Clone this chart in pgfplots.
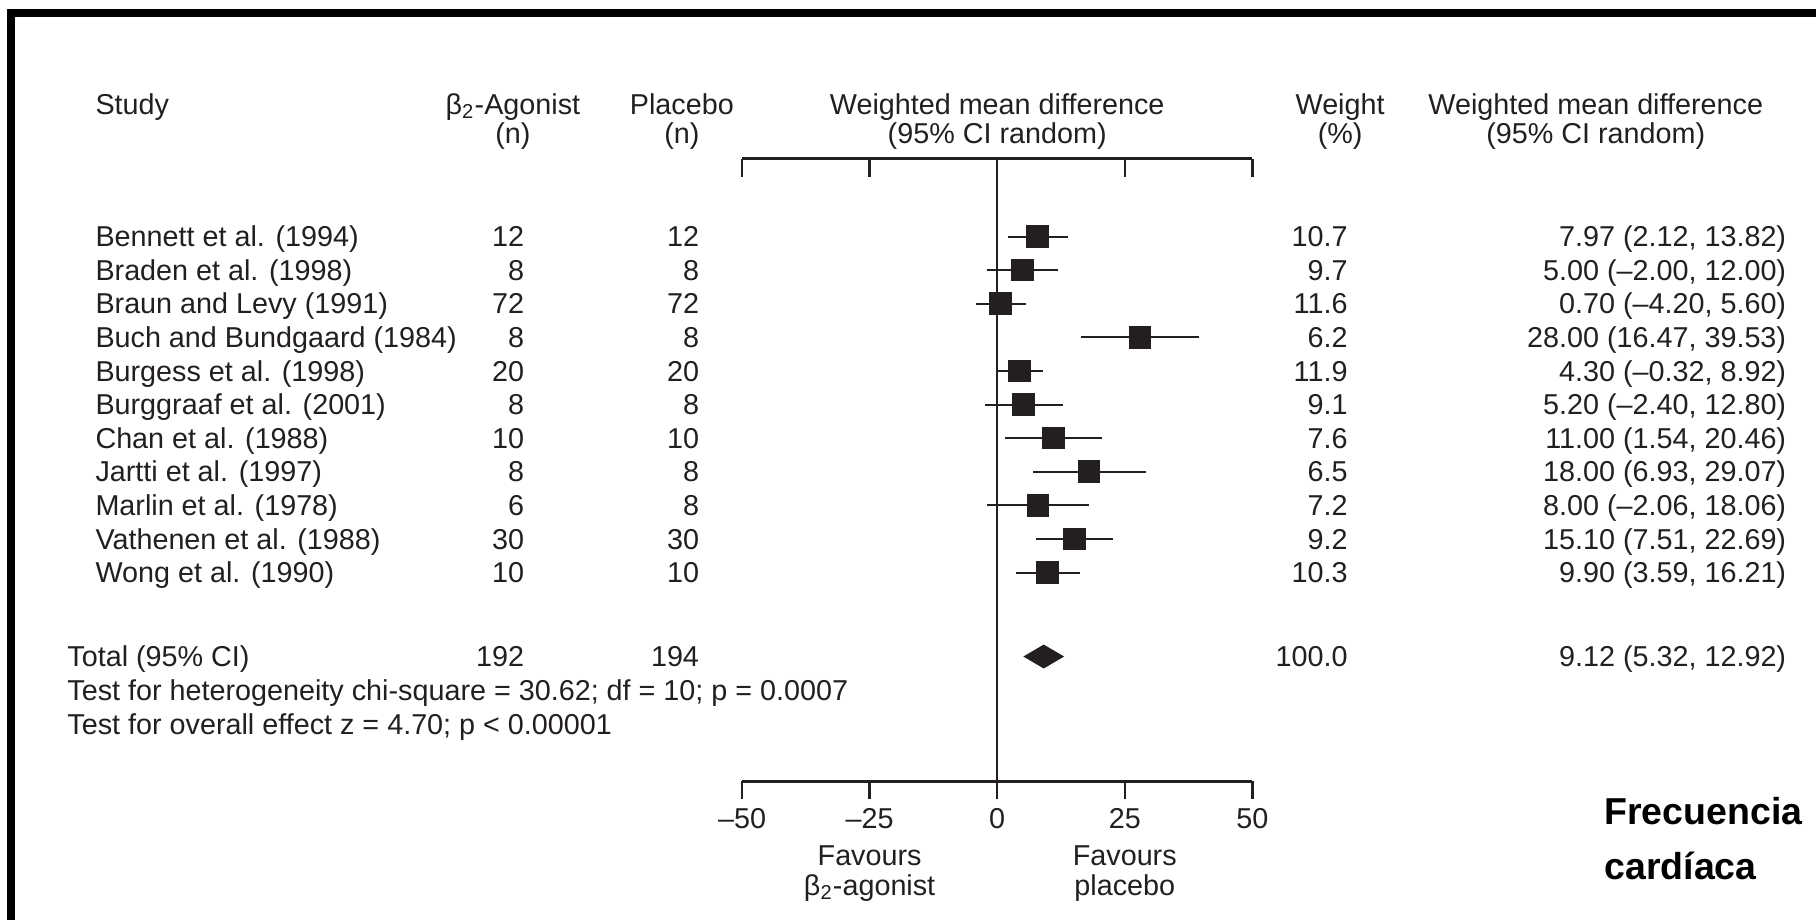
\documentclass[border=0pt]{standalone}
\usepackage{pgfplots}
\usepackage{pgfplotstable}
\pgfplotsset{compat=1.18}
\usepackage{fontspec}
\setmainfont{Liberation Sans}
\definecolor{ink}{RGB}{35,31,32}

\pgfplotstableread{
y mean lo hi
11 7.97 2.12 13.82
10 5.00 -2.00 12.00
9 0.70 -4.20 5.60
8 28.00 16.47 39.53
7 4.30 -0.32 8.92
6 5.20 -2.40 12.80
5 11.00 1.54 20.46
4 18.00 6.93 29.07
3 8.00 -2.06 18.06
2 15.10 7.51 22.69
1 9.90 3.59 16.21
}\studies

\tikzset{
 lt/.style={anchor=base west, yshift=-4.1pt, inner sep=0pt, text=ink},
 rt/.style={anchor=base east, yshift=-4.1pt, inner sep=0pt, text=ink},
 ct/.style={anchor=base, yshift=-4.1pt, inner sep=0pt, text=ink},
}
\newcommand\studyrow[7]{%
 \node[lt] at (axis cs:-176.8,#1) {#2};
 \node[rt] at (axis cs:-92.6,#1) {#3};
 \node[rt] at (axis cs:-58.34,#1) {#4};
 \node[rt] at (axis cs:68.75,#1) {#5};
 \node[rt] at (axis cs:154.7,#1) {#6 (#7)};
}

\begin{document}
\begin{tikzpicture}[font=\fontsize{11.5}{13.8}\selectfont]
% top line of the forest axis
\begin{axis}[
 at={(297.32pt,-63.48pt)}, anchor=north west,
 width=204.12pt, height=249.04pt, scale only axis,
 xmin=-50, xmax=50, ymin=-5.214, ymax=13.315,
 axis x line=top, axis y line=none,
 axis line style={-, line width=1pt, ink},
 xtick={-50,-25,25,50}, xticklabels={},
 tick align=inside, major tick length=7.2pt,
 tick style={line width=1pt, ink},
]
\end{axis}
\begin{axis}[
 at={(297.32pt,-63.48pt)}, anchor=north west,
 width=204.12pt, height=249.04pt, scale only axis,
 xmin=-50, xmax=50, ymin=-5.214, ymax=13.315,
 axis x line=bottom, axis y line=none,
 axis line style={-, line width=1pt, ink},
 xtick={-50,-25,0,25,50}, xticklabels={–50,–25,0,25,50},
 xticklabel style={text=ink},
 tick align=outside, major tick length=7.2pt,
 tick style={line width=1pt, ink},
 clip=false,
]
\coordinate (pTL) at (axis cs:-195.42,18.039);
\coordinate (pBR) at (axis cs:160.46,-9.313);
% frame
\draw[black, line width=3pt, line join=miter] (axis cs:-193.25,-9.6) -- (axis cs:-193.25,17.652) -- (axis cs:161,17.652);
% zero line
\draw[ink, line width=1pt] (axis cs:0,13.315) -- (axis cs:0,-5.214);

% confidence intervals and point estimates
\addplot[ink, only marks, mark=square*, mark size=4.35pt,
 mark options={fill=ink, draw=ink},
 error bars/.cd, x dir=both, x explicit, error mark=none,
 error bar style={line width=0.8pt, ink}]
 table[x=mean, y=y,
  x error plus expr=\thisrow{hi}-\thisrow{mean},
  x error minus expr=\thisrow{mean}-\thisrow{lo}] {\studies};
% pooled estimate
\addplot[fill=ink, draw=ink] coordinates {(5.32,-1.5) (9.12,-1.162) (12.92,-1.5) (9.12,-1.838)} -- cycle;

% headers
\node[lt] at (axis cs:-176.8,14.94) {Study};
\node[ct] at (axis cs:-94.9,14.94) {β\textsubscript{2}-Agonist};
\node[ct] at (axis cs:-94.9,14.08) {(n)};
\node[ct] at (axis cs:-61.8,14.94) {Placebo};
\node[ct] at (axis cs:-61.8,14.08) {(n)};
\node[ct] at (axis cs:0,14.94) {Weighted mean difference};
\node[ct] at (axis cs:0,14.08) {(95\% CI random)};
\node[ct] at (axis cs:67.2,14.94) {Weight};
\node[ct] at (axis cs:67.2,14.08) {(\%)};
\node[ct] at (axis cs:117.3,14.94) {Weighted mean difference};
\node[ct] at (axis cs:117.3,14.08) {(95\% CI random)};

% rows
\studyrow{11}{Bennett et al. (1994)}{12}{12}{10.7}{7.97}{2.12, 13.82}
\studyrow{10}{Braden et al. (1998)}{8}{8}{9.7}{5.00}{–2.00, 12.00}
\studyrow{9}{Braun and Levy (1991)}{72}{72}{11.6}{0.70}{–4.20, 5.60}
\studyrow{8}{Buch and Bundgaard (1984)}{8}{8}{6.2}{28.00}{16.47, 39.53}
\studyrow{7}{Burgess et al. (1998)}{20}{20}{11.9}{4.30}{–0.32, 8.92}
\studyrow{6}{Burggraaf et al. (2001)}{8}{8}{9.1}{5.20}{–2.40, 12.80}
\studyrow{5}{Chan et al. (1988)}{10}{10}{7.6}{11.00}{1.54, 20.46}
\studyrow{4}{Jartti et al. (1997)}{8}{8}{6.5}{18.00}{6.93, 29.07}
\studyrow{3}{Marlin et al. (1978)}{6}{8}{7.2}{8.00}{–2.06, 18.06}
\studyrow{2}{Vathenen et al. (1988)}{30}{30}{9.2}{15.10}{7.51, 22.69}
\studyrow{1}{Wong et al. (1990)}{10}{10}{10.3}{9.90}{3.59, 16.21}

% total
\node[lt] at (axis cs:-182.3,-1.5) {Total (95\% CI)};
\node[rt] at (axis cs:-92.6,-1.5) {192};
\node[rt] at (axis cs:-58.34,-1.5) {194};
\node[rt] at (axis cs:68.75,-1.5) {100.0};
\node[rt] at (axis cs:154.7,-1.5) {9.12 (5.32, 12.92)};
\node[lt] at (axis cs:-182.3,-2.5) {Test for heterogeneity chi-square = 30.62; df = 10; p = 0.0007};
\node[lt] at (axis cs:-182.3,-3.51) {Test for overall effect z = 4.70; p < 0.00001};

% favours
\node[ct] at (axis cs:-25,-7.41) {Favours};
\node[ct] at (axis cs:-25,-8.3) {β\textsubscript{2}-agonist};
\node[ct] at (axis cs:25,-7.41) {Favours};
\node[ct] at (axis cs:25,-8.3) {placebo};

% annotation
\node[anchor=base west, inner sep=0pt, font=\fontsize{15}{18}\selectfont\bfseries] at (axis cs:118.9,-6.485) {Frecuencia};
\node[anchor=base west, inner sep=0pt, font=\fontsize{15}{18}\selectfont\bfseries] at (axis cs:118.9,-8.14) {cardíaca};
\end{axis}
\pgfresetboundingbox
\path[use as bounding box] (pTL) rectangle (pBR);
\end{tikzpicture}
\end{document}
